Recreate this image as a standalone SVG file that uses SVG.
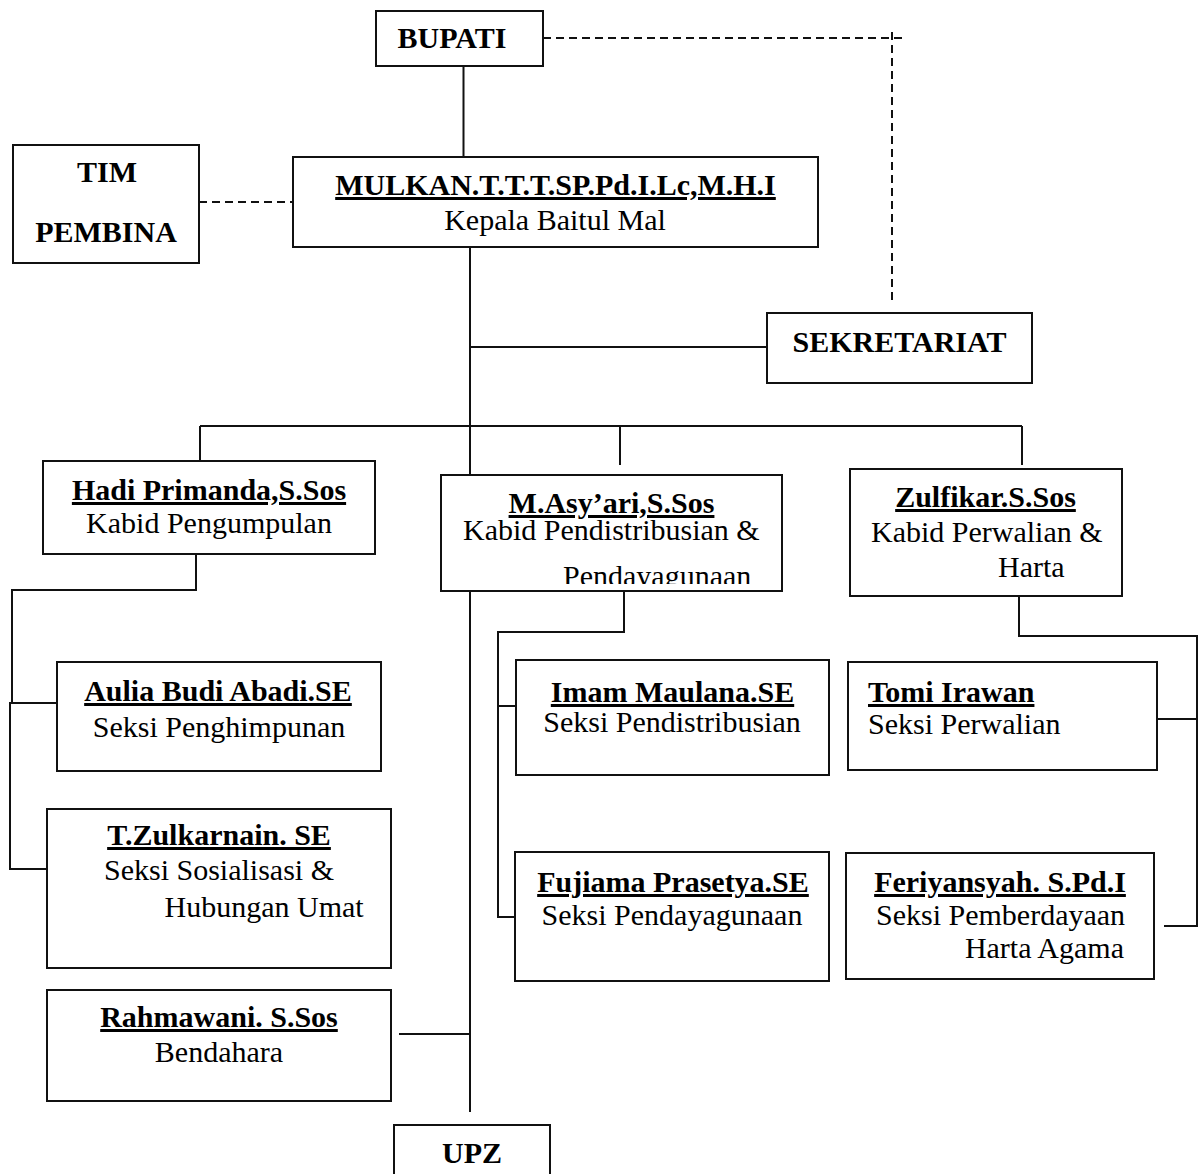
<svg xmlns="http://www.w3.org/2000/svg" width="1200" height="1174" viewBox="0 0 1200 1174">
<style>
.box{fill:#fff;stroke:#111;stroke-width:2}
.ln{fill:none;stroke:#111;stroke-width:2}
.dash{fill:none;stroke:#111;stroke-width:2;stroke-dasharray:8 5}
text{font-family:"Liberation Serif","Times New Roman",serif;font-size:30px;fill:#000}
.b{font-weight:bold}
.u{font-weight:bold;text-decoration:underline}
.c{text-anchor:middle}
.e{text-anchor:end}
</style>
<defs>
<clipPath id="clipAsy"><rect x="441" y="475" width="341" height="109"/></clipPath>
</defs>
<rect width="1200" height="1174" fill="#fff"/>
<g id="connectors">
<path class="ln" d="M463.5 66V157"/>
<path class="dash" d="M543 38H904"/>
<path class="dash" d="M892 32V302"/>
<path class="dash" d="M199 202H293"/>
<path class="ln" d="M470 247V475"/>
<path class="ln" d="M470 591V1112"/>
<path class="ln" d="M470 347H774"/>
<path class="ln" d="M200 426H1022"/>
<path class="ln" d="M200 426V460"/>
<path class="ln" d="M620 426V465"/>
<path class="ln" d="M1022 426V465"/>
<path class="ln" d="M196 554V590H12V703H57"/>
<path class="ln" d="M12 703H10V869H47"/>
<path class="ln" d="M624 591V632H498V917H517"/>
<path class="ln" d="M498 706H516"/>
<path class="ln" d="M1019 596V636H1197V926H1164"/>
<path class="ln" d="M1157 719H1197"/>
<path class="ln" d="M399 1034H470"/>
</g>
<g id="bupati">
<rect class="box" x="376" y="11" width="167" height="55"/>
<text class="b c" x="452" y="48">BUPATI</text>
</g>
<g id="tim-pembina">
<rect class="box" x="13" y="145" width="186" height="118"/>
<text class="b c" x="107" y="182">TIM</text>
<text class="b c" x="106" y="242">PEMBINA</text>
</g>
<g id="kepala">
<rect class="box" x="293" y="157" width="525" height="90"/>
<text class="u c" x="555.5" y="195">MULKAN.T.T.T.SP.Pd.I.Lc,M.H.I</text>
<text class="c" x="555" y="230">Kepala Baitul Mal</text>
</g>
<g id="sekretariat">
<rect class="box" x="767" y="313" width="265" height="70"/>
<text class="b c" x="899.5" y="352">SEKRETARIAT</text>
</g>
<g id="hadi">
<rect class="box" x="43" y="461" width="332" height="93"/>
<text class="u c" x="209" y="500">Hadi Primanda,S.Sos</text>
<text class="c" x="209" y="533">Kabid Pengumpulan</text>
</g>
<g id="asyari">
<rect class="box" x="441" y="475" width="341" height="116"/>
<text class="u c" x="611.5" y="513">M.Asy’ari,S.Sos</text>
<text x="463" y="540">Kabid Pendistribusian &amp;</text>
<text x="563" y="586" clip-path="url(#clipAsy)">Pendayagunaan</text>
</g>
<g id="zulfikar">
<rect class="box" x="850" y="469" width="272" height="127"/>
<text class="u c" x="985.5" y="507">Zulfikar.S.Sos</text>
<text x="871" y="542">Kabid Perwalian &amp;</text>
<text x="998" y="577">Harta</text>
</g>
<g id="aulia">
<rect class="box" x="57" y="662" width="324" height="109"/>
<text class="u c" x="218" y="701">Aulia Budi Abadi.SE</text>
<text class="c" x="219" y="737">Seksi Penghimpunan</text>
</g>
<g id="imam">
<rect class="box" x="516" y="660" width="313" height="115"/>
<text class="u c" x="672.5" y="702">Imam Maulana.SE</text>
<text class="c" x="672" y="732">Seksi Pendistribusian</text>
</g>
<g id="tomi">
<rect class="box" x="848" y="662" width="309" height="108"/>
<text class="u" x="868" y="702">Tomi Irawan</text>
<text x="868" y="734">Seksi Perwalian</text>
</g>
<g id="zulkarnain">
<rect class="box" x="47" y="809" width="344" height="159"/>
<text class="u c" x="219" y="845">T.Zulkarnain. SE</text>
<text x="104" y="880">Seksi Sosialisasi &amp;</text>
<text x="164.5" y="917">Hubungan Umat</text>
</g>
<g id="fujiama">
<rect class="box" x="515" y="852" width="314" height="129"/>
<text class="u c" x="673" y="892">Fujiama Prasetya.SE</text>
<text class="c" x="672" y="925">Seksi Pendayagunaan</text>
</g>
<g id="feriyansyah">
<rect class="box" x="846" y="853" width="308" height="126"/>
<text class="u c" x="1000" y="892">Feriyansyah. S.Pd.I</text>
<text x="876" y="925">Seksi Pemberdayaan</text>
<text class="e" x="1124" y="958">Harta Agama</text>
</g>
<g id="rahmawani">
<rect class="box" x="47" y="990" width="344" height="111"/>
<text class="u c" x="219" y="1027">Rahmawani. S.Sos</text>
<text class="c" x="219" y="1062">Bendahara</text>
</g>
<g id="upz">
<rect class="box" x="394" y="1125" width="156" height="60"/>
<text class="b c" x="472" y="1163">UPZ</text>
</g>
</svg>
